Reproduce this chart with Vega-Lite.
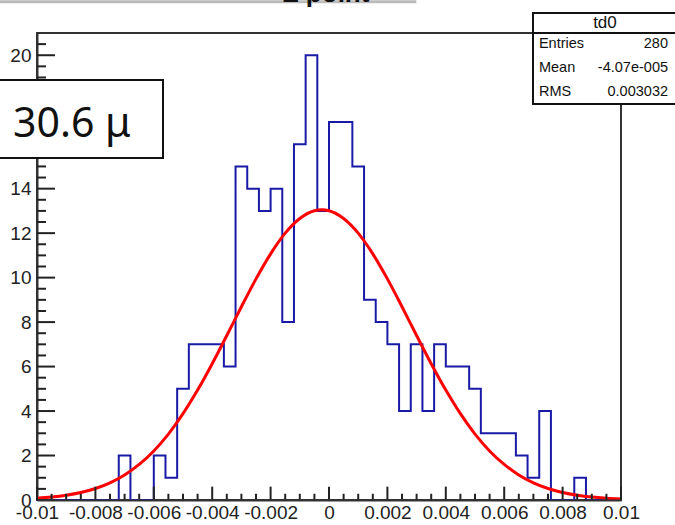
{
  "$schema": "https://vega.github.io/schema/vega-lite/v6.json",
  "width": 584,
  "height": 467,
  "autosize": {"type": "none"},
  "padding": {"left": 37, "top": 33, "right": 54, "bottom": 25},
  "background": "white",
  "config": {
    "view": {"stroke": "#333333", "strokeWidth": 2},
    "axis": {"labelFont": "Liberation Sans", "labelFontSize": 19, "labelColor": "#222222", "grid": false, "title": null, "labelOverlap": false, "labelFlush": false, "labelBound": false}
  },
  "datasets": {
    "hist": [
      {"x": -0.0100, "count": 0}, {"x": -0.0096, "count": 0}, {"x": -0.0092, "count": 0}, {"x": -0.0088, "count": 0},
      {"x": -0.0084, "count": 0}, {"x": -0.0080, "count": 0}, {"x": -0.0076, "count": 0}, {"x": -0.0072, "count": 2},
      {"x": -0.0068, "count": 0}, {"x": -0.0064, "count": 0}, {"x": -0.0060, "count": 2}, {"x": -0.0056, "count": 1},
      {"x": -0.0052, "count": 5}, {"x": -0.0048, "count": 7}, {"x": -0.0044, "count": 7}, {"x": -0.0040, "count": 7},
      {"x": -0.0036, "count": 6}, {"x": -0.0032, "count": 15}, {"x": -0.0028, "count": 14}, {"x": -0.0024, "count": 13},
      {"x": -0.0020, "count": 14}, {"x": -0.0016, "count": 8}, {"x": -0.0012, "count": 16}, {"x": -0.0008, "count": 20},
      {"x": -0.0004, "count": 13}, {"x": 0.0000, "count": 17}, {"x": 0.0004, "count": 17}, {"x": 0.0008, "count": 15},
      {"x": 0.0012, "count": 9}, {"x": 0.0016, "count": 8}, {"x": 0.0020, "count": 7}, {"x": 0.0024, "count": 4},
      {"x": 0.0028, "count": 7}, {"x": 0.0032, "count": 4}, {"x": 0.0036, "count": 7}, {"x": 0.0040, "count": 6},
      {"x": 0.0044, "count": 6}, {"x": 0.0048, "count": 5}, {"x": 0.0052, "count": 3}, {"x": 0.0056, "count": 3},
      {"x": 0.0060, "count": 3}, {"x": 0.0064, "count": 2}, {"x": 0.0068, "count": 1}, {"x": 0.0072, "count": 4},
      {"x": 0.0076, "count": 0}, {"x": 0.0080, "count": 0}, {"x": 0.0084, "count": 1}, {"x": 0.0088, "count": 0},
      {"x": 0.0092, "count": 0}, {"x": 0.0096, "count": 0}, {"x": 0.0100, "count": 0}
    ],
    "fit": [
      {"x": -0.0100, "y": 0.079}, {"x": -0.0095, "y": 0.131}, {"x": -0.0090, "y": 0.213}, {"x": -0.0085, "y": 0.336},
      {"x": -0.0080, "y": 0.517}, {"x": -0.0075, "y": 0.774}, {"x": -0.0070, "y": 1.127}, {"x": -0.0065, "y": 1.598},
      {"x": -0.0060, "y": 2.207}, {"x": -0.0055, "y": 2.965}, {"x": -0.0050, "y": 3.881}, {"x": -0.0045, "y": 4.942},
      {"x": -0.0040, "y": 6.128}, {"x": -0.0035, "y": 7.397}, {"x": -0.0030, "y": 8.691}, {"x": -0.0025, "y": 9.943},
      {"x": -0.0020, "y": 11.07}, {"x": -0.0015, "y": 12.00}, {"x": -0.0010, "y": 12.66}, {"x": -0.0005, "y": 13.01},
      {"x": -0.00025, "y": 13.05},
      {"x": 0.0000, "y": 13.01}, {"x": 0.0005, "y": 12.66}, {"x": 0.0010, "y": 12.00}, {"x": 0.0015, "y": 11.07},
      {"x": 0.0020, "y": 9.943}, {"x": 0.0025, "y": 8.691}, {"x": 0.0030, "y": 7.397}, {"x": 0.0035, "y": 6.128},
      {"x": 0.0040, "y": 4.942}, {"x": 0.0045, "y": 3.881}, {"x": 0.0050, "y": 2.965}, {"x": 0.0055, "y": 2.207},
      {"x": 0.0060, "y": 1.598}, {"x": 0.0065, "y": 1.127}, {"x": 0.0070, "y": 0.774}, {"x": 0.0075, "y": 0.517},
      {"x": 0.0080, "y": 0.336}, {"x": 0.0085, "y": 0.213}, {"x": 0.0090, "y": 0.131}, {"x": 0.0095, "y": 0.079},
      {"x": 0.0100, "y": 0.046}
    ],
    "xmajor": [{"v": -0.01}, {"v": -0.008}, {"v": -0.006}, {"v": -0.004}, {"v": -0.002}, {"v": 0}, {"v": 0.002}, {"v": 0.004}, {"v": 0.006}, {"v": 0.008}, {"v": 0.01}],
    "xminor": [{"v": -0.0095}, {"v": -0.009}, {"v": -0.0085}, {"v": -0.0075}, {"v": -0.007}, {"v": -0.0065}, {"v": -0.0055}, {"v": -0.005}, {"v": -0.0045}, {"v": -0.0035}, {"v": -0.003}, {"v": -0.0025}, {"v": -0.0015}, {"v": -0.001}, {"v": -0.0005}, {"v": 0.0005}, {"v": 0.001}, {"v": 0.0015}, {"v": 0.0025}, {"v": 0.003}, {"v": 0.0035}, {"v": 0.0045}, {"v": 0.005}, {"v": 0.0055}, {"v": 0.0065}, {"v": 0.007}, {"v": 0.0075}, {"v": 0.0085}, {"v": 0.009}, {"v": 0.0095}],
    "ymajor": [{"v": 0}, {"v": 2}, {"v": 4}, {"v": 6}, {"v": 8}, {"v": 10}, {"v": 12}, {"v": 14}, {"v": 16}, {"v": 18}, {"v": 20}],
    "yminor": [{"v": 0.5}, {"v": 1}, {"v": 1.5}, {"v": 2.5}, {"v": 3}, {"v": 3.5}, {"v": 4.5}, {"v": 5}, {"v": 5.5}, {"v": 6.5}, {"v": 7}, {"v": 7.5}, {"v": 8.5}, {"v": 9}, {"v": 9.5}, {"v": 10.5}, {"v": 11}, {"v": 11.5}, {"v": 12.5}, {"v": 13}, {"v": 13.5}, {"v": 14.5}, {"v": 15}, {"v": 15.5}, {"v": 16.5}, {"v": 17}, {"v": 17.5}, {"v": 18.5}, {"v": 19}, {"v": 19.5}, {"v": 20.5}],
    "one": [{"k": 1}]
  },
  "layer": [
    {
      "data": {"name": "hist"},
      "mark": {"type": "line", "interpolate": "step-after", "color": "#1a1aa6", "strokeWidth": 2},
      "encoding": {
        "x": {"field": "x", "type": "quantitative", "scale": {"domain": [-0.01, 0.01], "nice": false, "zero": false},
          "axis": {"orient": "bottom", "values": [-0.01, -0.008, -0.006, -0.004, -0.002, 0, 0.002, 0.004, 0.006, 0.008, 0.01],
            "labelExpr": "replace(format(datum.value, '.3~f'), '\u2212', '-')",
            "ticks": false, "labelPadding": 3, "domainColor": "#333333", "domainWidth": 2, "zindex": 1}},
        "y": {"field": "count", "type": "quantitative", "scale": {"domain": [0, 21], "nice": false, "zero": true},
          "axis": {"orient": "left", "values": [0, 2, 4, 6, 8, 10, 12, 14, 16, 18, 20], "ticks": false, "labelPadding": 6,
            "domainColor": "#333333", "domainWidth": 2, "zindex": 0}}
      }
    },
    {
      "data": {"name": "fit"},
      "mark": {"type": "line", "color": "#ff0000", "strokeWidth": 3, "interpolate": "monotone"},
      "encoding": {
        "x": {"field": "x", "type": "quantitative"},
        "y": {"field": "y", "type": "quantitative"}
      }
    },
    {
      "data": {"name": "xmajor"},
      "mark": {"type": "rule", "color": "#222222", "strokeWidth": 2},
      "encoding": {
        "x": {"field": "v", "type": "quantitative"},
        "y": {"datum": 0, "type": "quantitative"},
        "y2": {"datum": 0.6}
      }
    },
    {
      "data": {"name": "xminor"},
      "mark": {"type": "rule", "color": "#222222", "strokeWidth": 2},
      "encoding": {
        "x": {"field": "v", "type": "quantitative"},
        "y": {"datum": 0, "type": "quantitative"},
        "y2": {"datum": 0.28}
      }
    },
    {
      "data": {"name": "ymajor"},
      "mark": {"type": "rule", "color": "#222222", "strokeWidth": 2},
      "encoding": {
        "y": {"field": "v", "type": "quantitative"},
        "x": {"datum": -0.01, "type": "quantitative"},
        "x2": {"datum": -0.009384}
      }
    },
    {
      "data": {"name": "yminor"},
      "mark": {"type": "rule", "color": "#222222", "strokeWidth": 2},
      "encoding": {
        "y": {"field": "v", "type": "quantitative"},
        "x": {"datum": -0.01, "type": "quantitative"},
        "x2": {"datum": -0.009692}
      }
    },
    {
      "data": {"name": "one"},
      "mark": {"type": "rule", "color": "#bbbbbb", "strokeWidth": 3},
      "encoding": {
        "x": {"datum": -0.0115, "type": "quantitative"},
        "x2": {"datum": 0.00299},
        "y": {"datum": 22.41, "type": "quantitative"}
      }
    },
    {
      "data": {"name": "one"},
      "mark": {"type": "text", "text": "Z point", "font": "Liberation Sans", "fontSize": 26, "fontWeight": "bold", "align": "center", "baseline": "alphabetic", "color": "#111111"},
      "encoding": {
        "x": {"datum": -0.0001, "type": "quantitative"},
        "y": {"datum": 22.39, "type": "quantitative"}
      }
    },
    {
      "data": {"name": "one"},
      "mark": {"type": "rect", "fill": "white", "stroke": "#111111", "strokeWidth": 2},
      "encoding": {
        "x": {"datum": 0.006986, "type": "quantitative"},
        "x2": {"datum": 0.0125},
        "y": {"datum": 21.90, "type": "quantitative"},
        "y2": {"datum": 17.81}
      }
    },
    {
      "data": {"name": "one"},
      "mark": {"type": "rule", "color": "#111111", "strokeWidth": 2},
      "encoding": {
        "x": {"datum": 0.006986, "type": "quantitative"},
        "x2": {"datum": 0.0125},
        "y": {"datum": 21.0, "type": "quantitative"}
      }
    },
    {
      "data": {"name": "one"},
      "mark": {"type": "text", "text": "td0", "font": "Liberation Sans", "fontSize": 17, "align": "center", "baseline": "middle", "color": "#111111"},
      "encoding": {
        "x": {"datum": 0.00945, "type": "quantitative"},
        "y": {"datum": 21.45, "type": "quantitative"}
      }
    },
    {
      "data": {"values": [{"name": "Entries", "val": "280", "row": 20.51}, {"name": "Mean", "val": "-4.07e-005", "row": 19.43}, {"name": "RMS", "val": "0.003032", "row": 18.35}]},
      "mark": {"type": "text", "font": "Liberation Sans", "fontSize": 14.5, "align": "left", "baseline": "middle", "color": "#111111"},
      "encoding": {
        "text": {"field": "name"},
        "x": {"datum": 0.00719, "type": "quantitative"},
        "y": {"field": "row", "type": "quantitative"}
      }
    },
    {
      "data": {"values": [{"name": "Entries", "val": "280", "row": 20.51}, {"name": "Mean", "val": "-4.07e-005", "row": 19.43}, {"name": "RMS", "val": "0.003032", "row": 18.35}]},
      "mark": {"type": "text", "font": "Liberation Sans", "fontSize": 14.5, "align": "right", "baseline": "middle", "color": "#111111"},
      "encoding": {
        "text": {"field": "val"},
        "x": {"datum": 0.01161, "type": "quantitative"},
        "y": {"field": "row", "type": "quantitative"}
      }
    },
    {
      "data": {"name": "one"},
      "mark": {"type": "rect", "fill": "white", "stroke": "#111111", "strokeWidth": 2},
      "encoding": {
        "x": {"datum": -0.0125, "type": "quantitative"},
        "x2": {"datum": -0.005685},
        "y": {"datum": 18.886, "type": "quantitative"},
        "y2": {"datum": 15.379}
      }
    },
    {
      "data": {"name": "one"},
      "mark": {"type": "text", "text": "30.6 μ", "font": "Noto Sans", "fontSize": 41, "align": "left", "baseline": "alphabetic", "color": "#111111"},
      "encoding": {
        "x": {"datum": -0.010822, "type": "quantitative"},
        "y": {"datum": 16.34, "type": "quantitative"}
      }
    }
  ]
}
